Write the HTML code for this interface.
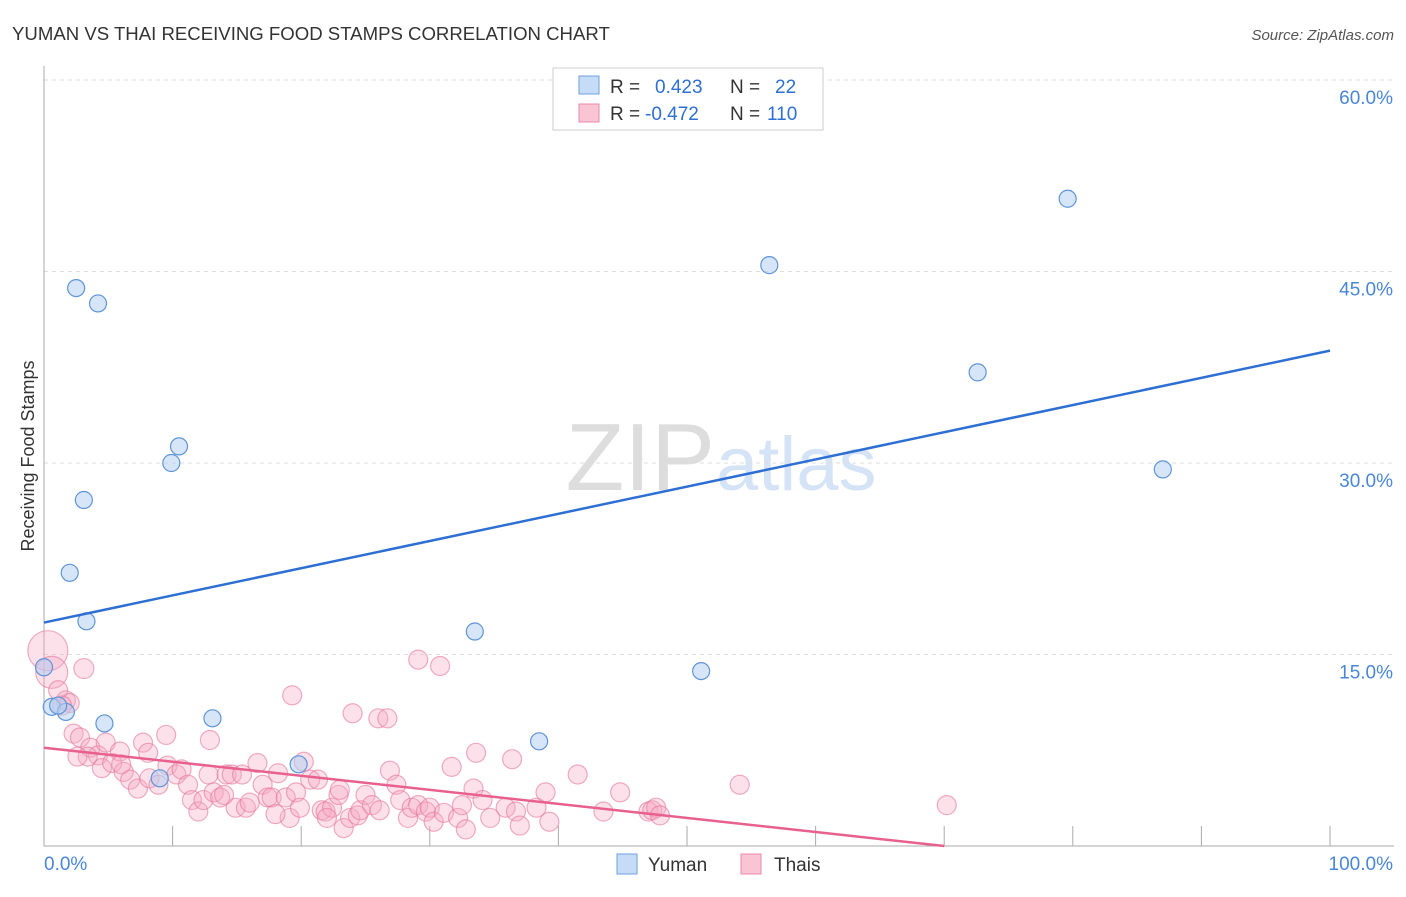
<!DOCTYPE html>
<html><head><meta charset="utf-8"><style>
body{margin:0;background:#fff;font-family:"Liberation Sans",sans-serif}
svg text{font-family:"Liberation Sans",sans-serif}
</style></head><body>
<svg id="c" width="1406" height="892" xmlns="http://www.w3.org/2000/svg">
<text x="12" y="40" font-size="18.6" fill="#333">YUMAN VS THAI RECEIVING FOOD STAMPS CORRELATION CHART</text>
<text x="1394" y="40" font-size="15" fill="#555" text-anchor="end" font-style="italic">Source: ZipAtlas.com</text>
<text x="715" y="490" font-size="96" fill="#ddd" text-anchor="end" font-family="Liberation Serif">ZIP</text>
<text x="716" y="490" font-size="76" fill="#d4e3f5">atlas</text>
<text transform="translate(34,456) rotate(-90)" font-size="18" fill="#333" text-anchor="middle">Receiving Food Stamps</text>
<g id="grid"></g><g id="pts"></g><g id="lines"></g>
<g>
<rect x="553" y="68" width="270" height="62" fill="#fff" stroke="#ccc"/>
<rect x="579" y="76" width="20" height="18" fill="#c6dbf5" stroke="#6fa0dc"/>
<rect x="579" y="104" width="20" height="18" fill="#f9c5d5" stroke="#e88aa8"/>
<text x="610" y="93" font-size="19" fill="#333">R = </text><text x="655" y="93" font-size="19" fill="#2d6fd2">0.423</text>
<text x="730" y="93" font-size="19" fill="#333">N = </text><text x="775" y="93" font-size="19" fill="#2d6fd2">22</text>
<text x="610" y="120" font-size="19" fill="#333">R = </text><text x="645" y="120" font-size="19" fill="#2d6fd2">-0.472</text>
<text x="730" y="120" font-size="19" fill="#333">N = </text><text x="767" y="120" font-size="19" fill="#2d6fd2">110</text>
</g>
<g>
<rect x="617" y="854" width="20" height="20" fill="#c6dbf5" stroke="#6fa0dc"/>
<text x="648" y="871" font-size="19" fill="#333">Yuman</text>
<rect x="741" y="854" width="20" height="20" fill="#f9c5d5" stroke="#e88aa8"/>
<text x="774" y="871" font-size="19" fill="#333">Thais</text>
</g>
</svg>
<script>
const yTicks=[15,30,45,60];
const yTickLabels=["15.0%","30.0%","45.0%","60.0%"];
const xTicks=[0,10,20,30,40,50,60,70,80,90,100];
const yumanX=[0,0.6,1.7,2.5,4.2,3.1,2.0,3.3,4.7,9.9,10.5,9.0,13.1,19.8,33.5,38.5,51.1,56.4,72.6,79.6,87.0,1.1];
const yumanY=[14.0,10.9,10.5,43.7,42.5,27.1,21.4,17.6,9.6,30.0,31.3,5.3,10.0,6.4,16.8,8.2,13.7,45.5,37.1,50.7,29.5,11.0];
const thaiX=[0.3,0.6,3.1,1.1,1.7,2.0,1.4,2.3,2.8,3.6,4.2,4.8,7.7,9.5,12.9,19.3,29.1,30.8,24.0,26.0,26.7,3.4,4.5,5.3,6.2,6.7,7.3,8.2,8.9,9.6,10.3,10.7,11.2,11.5,12.0,12.4,12.8,13.2,13.7,14.2,14.6,14.9,15.4,15.7,16.0,16.6,17.0,17.4,17.7,18.2,18.8,19.1,19.6,19.9,20.2,20.7,21.3,21.6,21.9,22.4,22.9,23.0,23.3,23.8,24.4,24.6,25.0,25.5,26.1,26.9,27.4,27.7,28.3,28.6,29.1,29.7,30.0,30.3,31.1,31.7,32.2,32.5,32.8,33.4,33.6,34.1,34.7,35.9,36.4,36.7,37.0,38.3,39.0,39.3,41.5,43.5,44.8,47.0,47.3,47.6,47.9,54.1,70.2,8.1,5.9,2.6,6.0,14.0,18.0,22.0];
const thaiY=[15.3,13.6,13.9,12.2,11.4,11.2,11.0,8.8,8.5,7.7,7.1,8.1,8.1,8.7,8.3,11.8,14.6,14.1,10.4,10.0,10.0,7.0,6.1,6.5,5.8,5.2,4.5,5.3,4.8,6.3,5.6,6.0,4.8,3.6,2.7,3.6,5.6,4.2,3.8,5.6,5.6,3.0,5.6,3.0,3.4,6.5,4.8,3.8,3.8,5.7,3.8,2.2,4.2,3.0,6.6,5.2,5.2,2.8,2.7,3.0,4.0,4.4,1.4,2.2,2.4,2.8,4.0,3.2,2.8,5.9,4.8,3.6,2.2,3.0,3.2,2.7,3.0,1.9,2.6,6.2,2.2,3.2,1.3,4.5,7.3,3.6,2.2,3.0,6.8,2.7,1.6,3.0,4.2,1.9,5.6,2.7,4.2,2.7,2.8,3.0,2.4,4.8,3.2,7.3,7.4,7.0,6.4,4.0,2.5,2.2];
const blueLine=[17.5,38.8];
const pinkLine=[7.7,-3.3];
const L=44,R=1330,T=80,B=846;
const sx=v=>L+(R-L)*v/100;
const sy=v=>B-(B-T)*v/60;
const NS="http://www.w3.org/2000/svg";
function mk(tag,attrs,parent){const e=document.createElementNS(NS,tag);for(const k in attrs)e.setAttribute(k,attrs[k]);document.getElementById(parent).appendChild(e);return e;}
yTicks.forEach((t,i)=>{
 const g=mk('line',{x1:L,x2:1394,y1:sy(t),y2:sy(t),stroke:'#ddd','stroke-dasharray':'4,4'},'grid');
 
 
 const tx=mk('text',{x:1393,y:sy(t)+24,'font-size':19,fill:'#4a86d8','text-anchor':'end'},'grid');
 tx.textContent=yTickLabels[i];
 
 
});
const ax=mk('line',{x1:L,x2:L,y1:66,y2:B,stroke:'#aaa'},'grid');


const bx=mk('line',{x1:L,x2:1394,y1:B,y2:B,stroke:'#aaa'},'grid');


xTicks.forEach(t=>{
 const k=mk('line',{x1:sx(t),x2:sx(t),y1:B,y2:B-20,stroke:'#aaa'},'grid');
 
 
});
const xl0=mk('text',{x:44,y:870,'font-size':19,fill:'#4a86d8'},'grid');xl0.textContent='0.0%';


const xl1=mk('text',{x:1393,y:870,'font-size':19,fill:'#4a86d8','text-anchor':'end'},'grid');xl1.textContent='100.0%';


thaiX.forEach((x,i)=>{
 const r=i===0?20:(i===1?16:(i===2?10:9.5));
 const c=mk('circle',{cx:sx(x),cy:sy(thaiY[i]),r:r,fill:'rgba(246,170,195,0.35)',stroke:'rgba(230,120,155,0.6)','stroke-width':1.2},'pts');
 
 
});
yumanX.forEach((x,i)=>{
 const c=mk('circle',{cx:sx(x),cy:sy(yumanY[i]),r:8.5,fill:'rgba(180,208,242,0.55)',stroke:'#5f95d8','stroke-width':1.2},'pts');
 
 
});
const bl=mk('line',{x1:sx(0),y1:sy(blueLine[0]),x2:sx(100),y2:sy(blueLine[1]),stroke:'#2d6fd2','stroke-width':2.5},'lines');


const pl=mk('line',{x1:sx(0),y1:sy(pinkLine[0]),x2:sx(70),y2:sy(pinkLine[0]+(pinkLine[1]-pinkLine[0])*0.7),stroke:'#e8608e','stroke-width':2.5},'lines');


</script>
</body></html>
